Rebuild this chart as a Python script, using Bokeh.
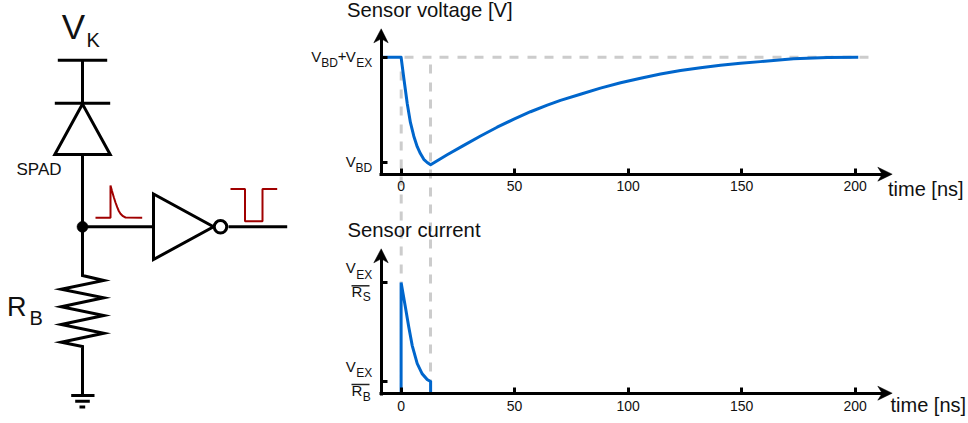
from bokeh.plotting import figure
from bokeh.models import Range1d, LinearAxis, FixedTicker, ColumnDataSource
from bokeh.core.properties import value, field
from bokeh.embed import file_html
from bokeh.resources import INLINE

FONT = "Liberation Sans"
BLUE = "#0066CC"
GREY = "#CCCCCC"
RED = "#A00000"

# ---------- chart data (time in ns, values in normalised units) ----------
time_ticks = [0, 50, 100, 150, 200]
volt_ticks = [0, 1]
curr_ticks = [0.105, 1]

volt_t = [-8, 0, 1.2, 2.7, 4.1, 5.6, 7.1, 8.5, 10, 11.5, 13, 20.3, 27.6, 35, 42.3, 49.7, 57, 64.4, 70.2,
          79, 87.8, 96.7, 105.5, 114.3, 123.1, 131.9, 140.7, 149.5, 158.3, 172.9, 187.8, 201.4]
volt_v = [1, 1, 0.80, 0.56, 0.38, 0.25, 0.15, 0.085, 0.03, 0.0, -0.022, 0.073, 0.163, 0.252, 0.335, 0.412,
          0.482, 0.545, 0.59, 0.648, 0.706, 0.757, 0.80, 0.84, 0.873, 0.90, 0.924, 0.943, 0.958, 0.985, 0.998, 1.0]

curr_t = [0, 0, 1.9, 3.4, 4.9, 7.1, 9.3, 11.5, 13, 13]
curr_i = [0, 1, 0.777, 0.597, 0.432, 0.27, 0.177, 0.126, 0.108, 0]

# ---------- page geometry (reference pixels) ----------
W, H = 968, 423
T0_PX, T_SCALE = 400.6, 2.27        # px of t=0, px per ns
V0_PX, V_SCALE = 162.0, 105.3       # px of v=0, px per unit
I0_PX, I_SCALE = 393.0, 111.0       # px of i=0, px per unit

def t_of(px): return (px - T0_PX) / T_SCALE
def v_of(py): return (V0_PX - py) / V_SCALE
def i_of(py): return (I0_PX - py) / I_SCALE

p = figure(width=W, height=H, output_backend="svg", toolbar_location=None,
           x_range=Range1d(0, W), y_range=Range1d(H, 0),
           x_axis_type=None, y_axis_type=None, min_border=0,
           outline_line_color=None, background_fill_color="white", border_fill_color="white")
p.grid.visible = False
p.extra_x_ranges = {"t": Range1d(t_of(0), t_of(W))}
p.extra_y_ranges = {"v": Range1d(v_of(H), v_of(0)),
                    "i": Range1d(i_of(H), i_of(0))}

# ---------- guides ----------
DASH = "9 9 9 8"
p.line([404, 869], [56.7, 56.7], line_color=GREY, line_width=3, line_dash=DASH)
p.line([400.7, 400.7], [71, 282], line_color=GREY, line_width=3, line_dash=DASH)
p.line([430, 430], [64, 380], line_color=GREY, line_width=3, line_dash=DASH)

# ---------- curves ----------
p.line(volt_t, volt_v, x_range_name="t", y_range_name="v", line_color=BLUE, line_width=3, line_join="round")
p.line(curr_t, curr_i, x_range_name="t", y_range_name="i", line_color=BLUE, line_width=3, line_join="miter")

# ---------- axes ----------
def make_axes(yname, ticks, base_px, top_px):
    yf = v_of if yname == "v" else i_of
    xa = LinearAxis(x_range_name="t", y_range_name=yname, ticker=FixedTicker(ticks=time_ticks),
                    fixed_location=yf(base_px), bounds=(t_of(379.2), t_of(884)),
                    axis_line_color="black", axis_line_width=3,
                    major_tick_in=6, major_tick_out=0, major_tick_line_width=3, major_tick_line_color="black",
                    minor_tick_line_color=None, major_label_standoff=7,
                    major_label_text_font=FONT, major_label_text_font_size="14px", major_label_text_color="#111111")
    ya = LinearAxis(x_range_name="t", y_range_name=yname, ticker=FixedTicker(ticks=ticks),
                    fixed_location=t_of(380.7), bounds=(yf(base_px + 1.5), yf(top_px)),
                    axis_line_color="black", axis_line_width=3,
                    major_tick_in=6, major_tick_out=0, major_tick_line_width=3, major_tick_line_color="black",
                    minor_tick_line_color=None,
                    major_label_overrides={k: "" for k in ticks})
    p.add_layout(xa, "below")
    p.add_layout(ya, "left")

make_axes("v", volt_ticks, 173.5, 36)
make_axes("i", curr_ticks, 393, 256)

# arrow heads
head_xs = [[373.3, 380.7, 387.7, 380.7], [877.3, 891.7, 877.3, 881.7],
           [373.3, 380.7, 387.7, 380.7], [877.3, 891.7, 877.3, 881.7]]
head_ys = [[42.3, 28.3, 42.3, 38.3], [166.7, 173.7, 180.7, 173.7],
           [262.3, 248.3, 262.3, 258.3], [385.7, 392.7, 399.7, 392.7]]
p.patches(head_xs, head_ys, fill_color="black", line_color="black", line_width=0.5)

# ---------- circuit ----------
wire_xs = [[57.3, 106.7], [82, 82], [54.3, 109.7], [82, 82], [82, 153], [228, 286.7],
           [82, 82, 103.3, 60.7, 103.3, 60.7, 103.3, 60.7, 103.3, 60.7, 82, 82],
           [70.7, 94], [74.7, 89.3], [79, 84.7]]
wire_ys = [[59.7, 59.7], [59.7, 102.7], [102.7, 102.7], [154, 226.3], [226.3, 226.3], [226.3, 226.3],
           [226.3, 275, 280, 288.7, 297.3, 306.3, 315, 324, 332.7, 341.7, 346, 395],
           [395, 395], [400.7, 400.7], [406.5, 406.5]]
p.multi_line(wire_xs, wire_ys, line_color="black", line_width=3, line_join="miter")

diode_x, diode_y = [82, 54.3, 109.7], [103.5, 154, 154]
p.patch(diode_x, diode_y, fill_color=None, line_color="black", line_width=3, line_join="miter")
inv_x, inv_y = [153, 153, 213], [193.5, 259, 226.3]
p.patch(inv_x, inv_y, fill_color="white", line_color="black", line_width=3, line_join="miter")
p.scatter([220], [226.3], size=12.5, fill_color="white", line_color="black", line_width=3)
p.scatter([82], [226.3], size=11, fill_color="black", line_color="black", line_width=0.5)

pulse1_x = [95, 110, 110, 111.5, 113.3, 115, 116.7, 118.3, 120, 122.5, 125, 141.7]
pulse1_y = [217.3, 217.3, 185, 190.5, 196.7, 202, 206.7, 210.5, 213.3, 215.7, 217, 217.3]
pulse2_x = [230, 244.5, 244.5, 262, 262, 276.7]
pulse2_y = [188.5, 188.5, 220.7, 220.7, 188.5, 188.5]
p.line(pulse1_x, pulse1_y, line_color=RED, line_width=2)
p.line(pulse2_x, pulse2_y, line_color=RED, line_width=2)

# fraction bars
p.multi_line([[351, 369], [351, 369]], [[285.3, 285.3], [384, 384]], line_color="#222222", line_width=1.5)

# ---------- texts ----------
txt = ["V", "K", "SPAD", "R", "B",
       "Sensor voltage [V]", "Sensor current", "time [ns]", "time [ns]",
       "V", "BD", "+", "V", "EX",
       "V", "BD",
       "V", "EX", "R", "S",
       "V", "EX", "R", "B"]
tx = [61.2, 86, 16, 6.5, 29,
      346.5, 347, 887.5, 890,
      310.7, 320.7, 337.2, 345.3, 355.7,
      345.3, 355,
      345.3, 355.7, 351, 362.3,
      345.3, 355.7, 351, 362.3]
ty = [38.3, 46.7, 175, 315.3, 324.3,
      16.7, 236.7, 195.7, 411,
      61, 66.7, 61, 61, 66.7,
      165.7, 171.7,
      271.7, 278.3, 295.7, 300.7,
      371, 376.7, 395, 401]
sizes = [35, 20, 17, 27, 20,
         20.3, 20.3, 20, 20,
         15, 12, 15, 15, 12,
         15, 12,
         15, 12, 15, 12,
         15, 12, 15, 12]
BASELINE_SHIFT = 0.34   # the text glyph sits this many em below the requested baseline
src = ColumnDataSource(dict(x=tx, y=[y - BASELINE_SHIFT * s for y, s in zip(ty, sizes)], text=txt,
                            size=[f"{s}px" for s in sizes]))
p.text("x", "y", text="text", source=src, text_font=value(FONT), text_font_size=field("size"),
       text_color="#111111", text_align="left", text_baseline="alphabetic")

html = file_html(p, INLINE)
open("out.html", "w").write(html)
